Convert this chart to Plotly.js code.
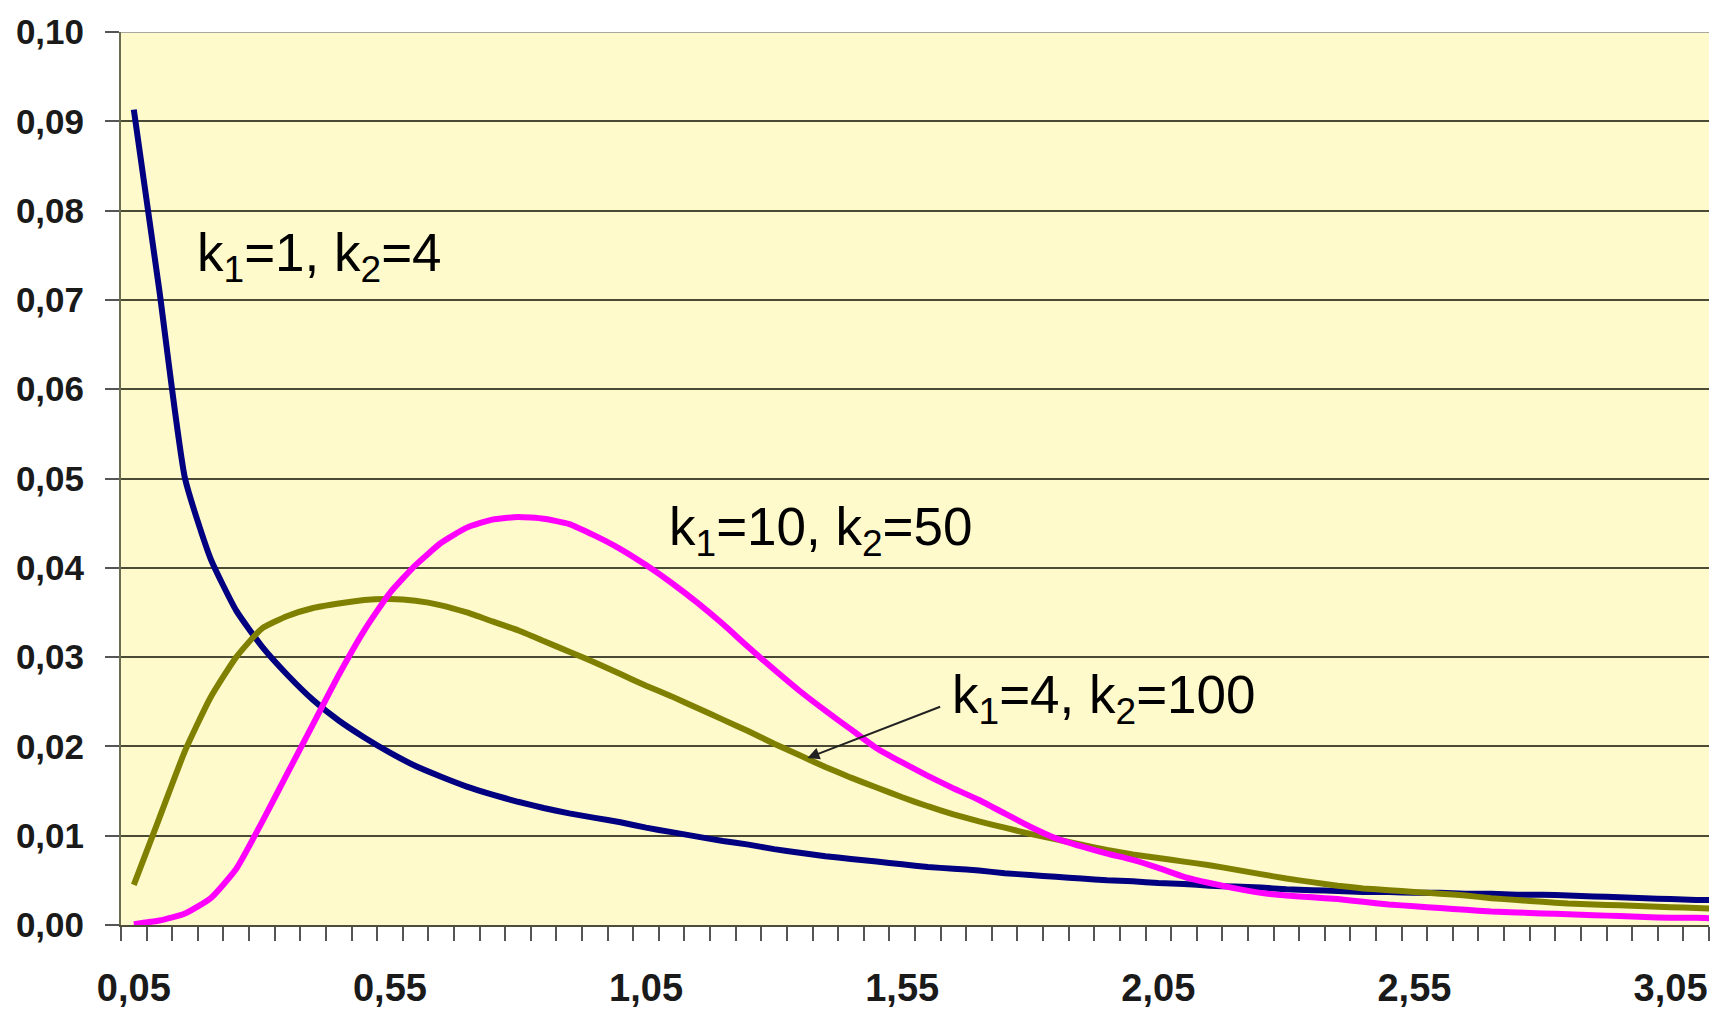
<!DOCTYPE html>
<html>
<head>
<meta charset="utf-8">
<script src="https://cdn.plot.ly/plotly-3.0.1.min.js"></script>
<style>
  html, body { margin: 0; padding: 0; background: #ffffff; }
  #chart { width: 1716px; height: 1009px; }
</style>
</head>
<body>
<div id="chart"></div>
<script>
// Category values on the x axis (step 0.05)
const xValues = [
  0.05, 0.10, 0.15, 0.20, 0.25, 0.30, 0.35, 0.40, 0.45, 0.50,
  0.55, 0.60, 0.65, 0.70, 0.75, 0.80, 0.85, 0.90, 0.95, 1.00,
  1.05, 1.10, 1.15, 1.20, 1.25, 1.30, 1.35, 1.40, 1.45, 1.50,
  1.55, 1.60, 1.65, 1.70, 1.75, 1.80, 1.85, 1.90, 1.95, 2.00,
  2.05, 2.10, 2.15, 2.20, 2.25, 2.30, 2.35, 2.40, 2.45, 2.50,
  2.55, 2.60, 2.65, 2.70, 2.75, 2.80, 2.85, 2.90, 2.95, 3.00,
  3.05, 3.10, 3.15
];

// k1=1, k2=4 (navy)
const seriesK1_1_K2_4 = [
  0.0913, 0.0710, 0.0500, 0.0410, 0.0352, 0.0312, 0.0280, 0.0252, 0.0229, 0.0210,
  0.0193, 0.0178, 0.0166, 0.0155, 0.0146, 0.0138, 0.0131, 0.0125, 0.0120, 0.0115,
  0.0109, 0.0104, 0.0099, 0.0094, 0.0090, 0.0085, 0.0081, 0.0077, 0.0074, 0.0071,
  0.0068, 0.0065, 0.0063, 0.0061, 0.0058, 0.0056, 0.0054, 0.0052, 0.0050, 0.0049,
  0.0047, 0.0046, 0.0044, 0.0043, 0.0042, 0.0040, 0.0039, 0.0038, 0.0037, 0.0037,
  0.0036, 0.0036, 0.0035, 0.0035, 0.0034, 0.0034, 0.0033, 0.0032, 0.0031, 0.0030,
  0.0029, 0.0028, 0.0028
];

// k1=10, k2=50 (magenta)
const seriesK1_10_K2_50 = [
  0.0001, 0.0005, 0.0013, 0.0030, 0.0063, 0.0115, 0.0170, 0.0225, 0.0280, 0.0330,
  0.0372, 0.0403, 0.0428, 0.0445, 0.0454, 0.0457, 0.0455, 0.0449, 0.0436, 0.0421,
  0.0403, 0.0383, 0.0361, 0.0337, 0.0311, 0.0286, 0.0262, 0.0240, 0.0219, 0.0198,
  0.0182, 0.0167, 0.0153, 0.0140, 0.0125, 0.0110, 0.0097, 0.0088, 0.0080, 0.0073,
  0.0064, 0.0054, 0.0047, 0.0041, 0.0036, 0.0033, 0.0031, 0.0029, 0.0026, 0.0023,
  0.0021, 0.0019, 0.0017, 0.0015, 0.0014, 0.0013, 0.0012, 0.0011, 0.0010, 0.0009,
  0.0008, 0.0008, 0.0007
];

// k1=4, k2=100 (olive)
const seriesK1_4_K2_100 = [
  0.0045, 0.0120, 0.0195, 0.0255, 0.0300, 0.0332, 0.0346, 0.0355, 0.0360, 0.0364,
  0.0365, 0.0363, 0.0358, 0.0350, 0.0340, 0.0330, 0.0318, 0.0306, 0.0294, 0.0281,
  0.0268, 0.0256, 0.0243, 0.0230, 0.0217, 0.0203, 0.0190, 0.0177, 0.0165, 0.0154,
  0.0143, 0.0133, 0.0124, 0.0116, 0.0109, 0.0102, 0.0096, 0.0090, 0.0084, 0.0079,
  0.0075, 0.0071, 0.0067, 0.0062, 0.0057, 0.0052, 0.0048, 0.0044, 0.0041, 0.0039,
  0.0037, 0.0035, 0.0033, 0.0030, 0.0028, 0.0026, 0.0024, 0.0023, 0.0022, 0.0021,
  0.0020, 0.0019, 0.0018
];

// Tick labels
const xTickVals = [0.05, 0.55, 1.05, 1.55, 2.05, 2.55, 3.05];
const xTickText = ["0,05", "0,55", "1,05", "1,55", "2,05", "2,55", "3,05"];

// Curve labels
const labelTexts = [
  "k<sub>1</sub>=1, k<sub>2</sub>=4",
  "k<sub>1</sub>=10, k<sub>2</sub>=50",
  "k<sub>1</sub>=4, k<sub>2</sub>=100"
];

const FONT = "Liberation Sans, Arial, sans-serif";

const lineStyle = (color) => ({ color: color, width: 6, shape: "spline", smoothing: 0.5 });

const traces = [
  { x: xValues, y: seriesK1_1_K2_4, mode: "lines", line: lineStyle("#000080"), hoverinfo: "skip" },
  { x: xValues, y: seriesK1_4_K2_100, mode: "lines", line: lineStyle("#808000"), hoverinfo: "skip" },
  { x: xValues, y: seriesK1_10_K2_50, mode: "lines", line: lineStyle("#FF00FF"), hoverinfo: "skip" }
];

const annFont = { family: FONT, size: 53, color: "#000000" };

const layout = {
  width: 1716,
  height: 1009,
  margin: { l: 121, r: 7, t: 32, b: 84, pad: 0 },
  paper_bgcolor: "#ffffff",
  plot_bgcolor: "#FFFACB",
  showlegend: false,
  separators: ", ",
  xaxis: {
    range: [0.025, 3.125],
    showgrid: false,
    zeroline: false,
    showline: true,
    linecolor: "#4d4d3a",
    linewidth: 2,
    tickmode: "array",
    tickvals: xTickVals,
    ticktext: xTickText,
    ticks: "",
    ticklabelstandoff: 28,
    tickfont: { family: FONT, size: 38, color: "#1a1a1a", weight: "bold" },
    minor: { ticks: "outside", tick0: 0.025, dtick: 0.05, ticklen: 14, tickwidth: 2, tickcolor: "#555555", showgrid: false }
  },
  yaxis: {
    range: [0, 0.1],
    tick0: 0,
    dtick: 0.01,
    tickformat: ".2f",
    showgrid: true,
    gridcolor: "#4a4a35",
    gridwidth: 2,
    zeroline: false,
    showline: true,
    linecolor: "#6b6b50",
    linewidth: 2,
    ticks: "outside",
    ticklen: 14,
    tickwidth: 2,
    tickcolor: "#555555",
    ticklabelstandoff: 14,
    tickfont: { family: FONT, size: 35, color: "#1a1a1a", weight: "bold" }
  },
  shapes: [
    { type: "line", xref: "paper", yref: "y", x0: 0, x1: 1, y0: 0.1, y1: 0.1, line: { color: "#a8a8a0", width: 2 } }
  ],
  annotations: [
    { x: 0.169, y: 0.0749, xref: "x", yref: "y", text: labelTexts[0], showarrow: false, xanchor: "left", yanchor: "middle", font: annFont },
    { x: 1.091, y: 0.0442, xref: "x", yref: "y", text: labelTexts[1], showarrow: false, xanchor: "left", yanchor: "middle", font: annFont },
    { x: 1.643, y: 0.0254, xref: "x", yref: "y", text: labelTexts[2], showarrow: false, xanchor: "left", yanchor: "middle", font: annFont },
    { x: 1.365, y: 0.0187, xref: "x", yref: "y", ax: 1.627, ay: 0.0245, axref: "x", ayref: "y", text: "", showarrow: true, arrowhead: 2, arrowsize: 1.2, arrowwidth: 2, arrowcolor: "#222222", standoff: 0, startstandoff: 0 }
  ]
};

Plotly.newPlot("chart", traces, layout, { staticPlot: true, displayModeBar: false });
</script>
</body>
</html>
